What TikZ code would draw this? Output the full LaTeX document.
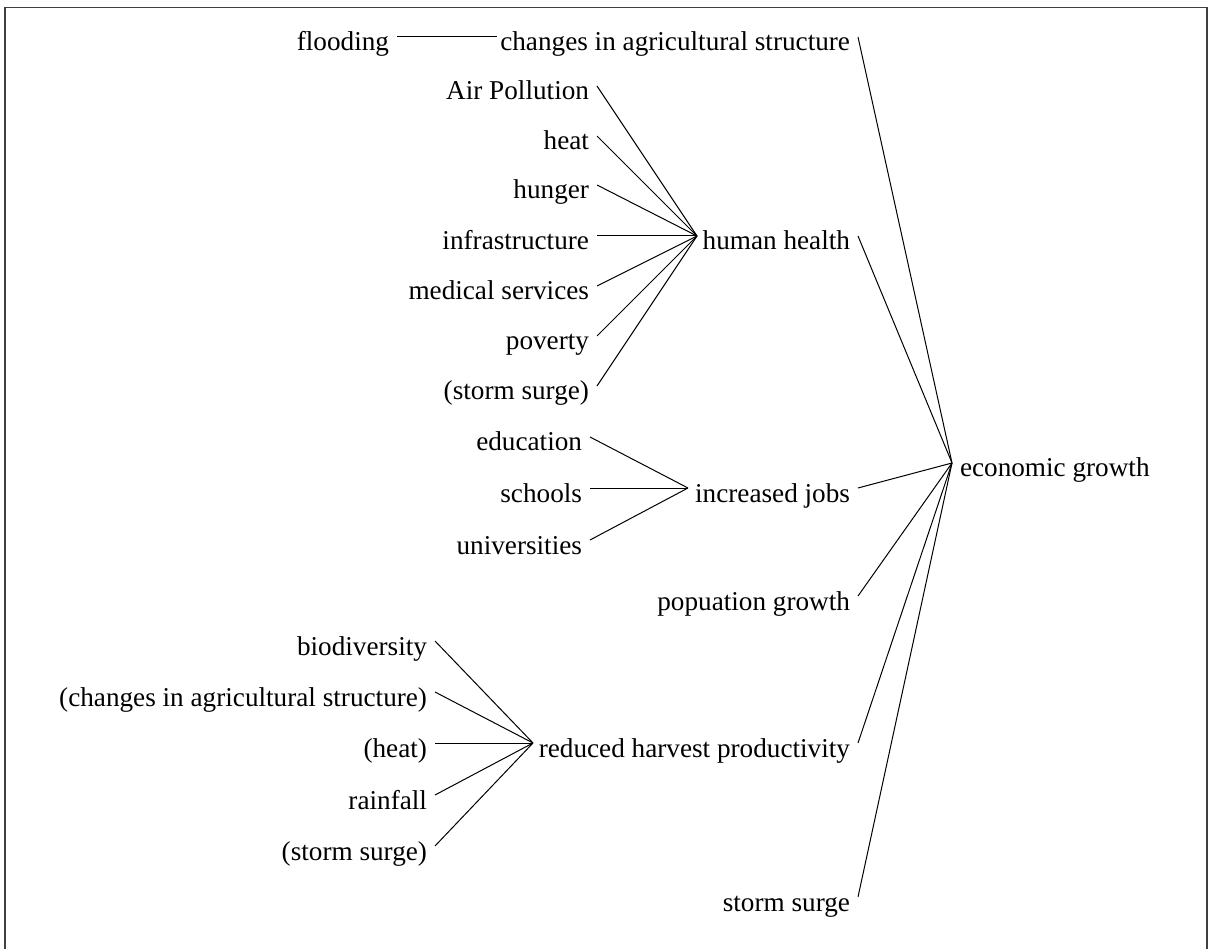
\documentclass[tikz,border=0pt]{standalone}
\usepackage{fontspec}
\setmainfont{Liberation Serif}
\begin{document}
\begin{tikzpicture}[x=1pt,y=-1pt,
  lbl/.style={font=\fontsize{27.2}{33}\selectfont, inner xsep=8pt, inner ysep=0pt,
              outer sep=0pt, text height=28pt, text depth=0pt},
  src/.style={lbl, anchor=east},
  dst/.style={lbl, anchor=west},
  link/.style={line width=1pt, black}]
\useasboundingbox (0,0) rectangle (1208,949);
% outer frame
\draw[line width=1.3pt, black!75] (5,949) -- (5,7.5) -- (1207,7.5) -- (1207,949);

% target
\node[dst] (eg) at (952,463) {economic growth};

% middle column
\node[src] (cas) at (858,37) {changes in agricultural structure};
\node[src] (hh)  at (858,236) {human health};
\node[src] (ij)  at (858,488) {increased jobs};
\node[src] (pg)  at (858,596) {popuation growth};
\node[src] (rhp) at (858,743) {reduced harvest productivity};
\node[src] (ss)  at (858,897) {storm surge};

% west anchors of the middle column
\coordinate (casW) at (497,37);
\coordinate (hhW)  at (697,236);
\coordinate (ijW)  at (688,488);
\coordinate (rhpW) at (533,743);

% flooding
\node[src] (fl) at (397,37) {flooding};

% human health sources
\node[src] (ap)  at (597,86)  {Air Pollution};
\node[src] (ht)  at (597,136) {heat};
\node[src] (hu)  at (597,185) {hunger};
\node[src] (inf) at (597,236) {infrastructure};
\node[src] (ms)  at (597,286) {medical services};
\node[src] (pv)  at (597,336) {poverty};
\node[src] (ss1) at (597,386) {(storm surge)};

% increased jobs sources
\node[src] (ed) at (590,437) {education};
\node[src] (sc) at (590,488) {schools};
\node[src] (un) at (590,540) {universities};

% reduced harvest productivity sources
\node[src] (bd)  at (435,641) {biodiversity};
\node[src] (cas2) at (435,692) {(changes in agricultural structure)};
\node[src] (ht2) at (435,743) {(heat)};
\node[src] (rf)  at (435,795) {rainfall};
\node[src] (ss2) at (435,846) {(storm surge)};

% connectors
\draw[link] (fl.east) -- (casW);
\foreach \n in {ap,ht,hu,inf,ms,pv,ss1} \draw[link] (\n.east) -- (hhW);
\foreach \n in {ed,sc,un} \draw[link] (\n.east) -- (ijW);
\foreach \n in {bd,cas2,ht2,rf,ss2} \draw[link] (\n.east) -- (rhpW);
\foreach \n in {cas,hh,ij,pg,rhp,ss} \draw[link] (\n.east) -- (eg.west);
\end{tikzpicture}
\end{document}
